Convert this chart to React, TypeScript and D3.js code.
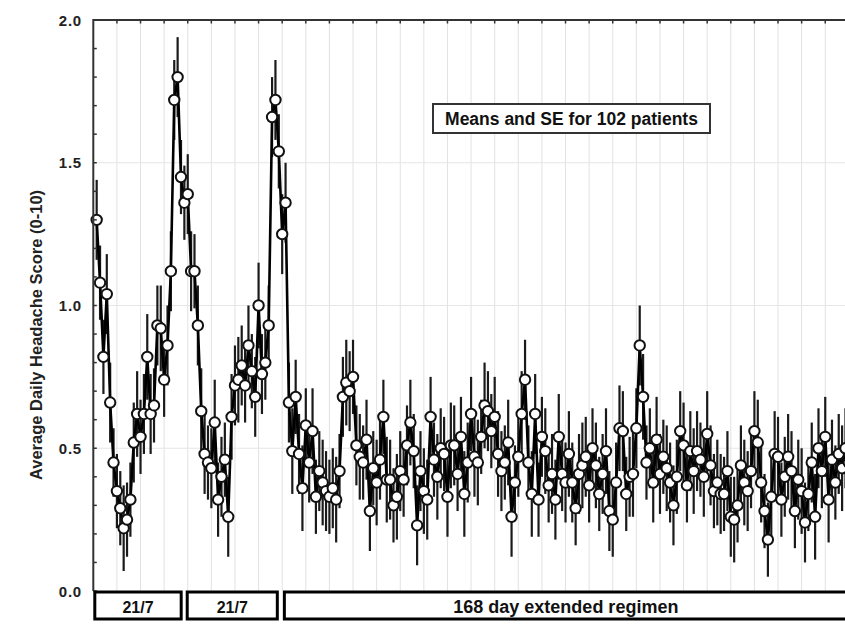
import React from "react";
import * as d3 from "d3";

// Mean daily headache score per day (days 1..224)
const means: number[] = [
  // cycle 1 (21/7)
  1.30, 1.08, 0.82, 1.04, 0.66, 0.45, 0.35, 0.29, 0.22, 0.25,
  0.32, 0.52, 0.62, 0.54, 0.62, 0.82, 0.62, 0.65, 0.93, 0.92,
  0.74, 0.86, 1.12, 1.72, 1.80, 1.45, 1.36, 1.39, 1.12, 1.12,
  0.93, 0.63,
  // cycle 2 (21/7)
  0.48, 0.45, 0.43, 0.59, 0.32, 0.40, 0.46, 0.26, 0.61, 0.72,
  0.74, 0.79, 0.72, 0.86, 0.77, 0.68, 1.00, 0.76, 0.80, 0.93,
  1.66, 1.72, 1.54, 1.25, 1.36,
  // extended regimen
  0.66, 0.49, 0.68, 0.48, 0.36, 0.58, 0.45, 0.56, 0.33, 0.42,
  0.38, 0.35, 0.33, 0.36, 0.32, 0.42, 0.68, 0.73, 0.70, 0.75,
  0.51, 0.47, 0.45, 0.53, 0.28, 0.43, 0.38, 0.46, 0.61, 0.39,
  0.39, 0.30, 0.33, 0.42, 0.39, 0.51, 0.59, 0.49, 0.23, 0.42,
  0.35, 0.32, 0.61, 0.46, 0.40, 0.50, 0.48, 0.33, 0.51, 0.51,
  0.41, 0.54, 0.34, 0.45, 0.62,
  0.47, 0.45, 0.54, 0.65, 0.63, 0.56, 0.61, 0.48, 0.42, 0.45,
  0.52, 0.26, 0.38, 0.47, 0.62, 0.74, 0.45, 0.34, 0.62, 0.32,
  0.54, 0.49, 0.37, 0.41, 0.32, 0.54, 0.41, 0.38, 0.48, 0.38,
  0.29, 0.41, 0.44, 0.47, 0.37, 0.50, 0.44, 0.34, 0.41, 0.49,
  0.28, 0.25, 0.38, 0.57, 0.56, 0.34, 0.40, 0.41, 0.57, 0.86,
  0.68, 0.45, 0.50, 0.38, 0.53,
  0.41, 0.47, 0.43, 0.38, 0.30, 0.40, 0.56, 0.51, 0.37, 0.49,
  0.42, 0.49, 0.46, 0.40, 0.55, 0.44, 0.35, 0.38, 0.34, 0.34,
  0.42, 0.26, 0.25, 0.30, 0.44, 0.38, 0.35, 0.42, 0.56, 0.52,
  0.38, 0.28, 0.18, 0.33, 0.48, 0.47, 0.32, 0.40, 0.47, 0.42,
  0.28, 0.39, 0.35, 0.24, 0.34, 0.45, 0.26, 0.50, 0.42, 0.54,
  0.32, 0.46, 0.38, 0.48, 0.43, 0.50, 0.45,
];

// Standard error per day
const se: number[] = [
  0.14, 0.13, 0.13, 0.14, 0.14, 0.12, 0.13, 0.13, 0.15, 0.13,
  0.13, 0.14, 0.15, 0.13, 0.14, 0.15, 0.14, 0.13, 0.14, 0.15,
  0.13, 0.14, 0.14, 0.14, 0.14, 0.13, 0.13, 0.14, 0.14, 0.13,
  0.14, 0.15,
  0.14, 0.13, 0.14, 0.15, 0.13, 0.14, 0.13, 0.14, 0.15, 0.14,
  0.15, 0.14, 0.13, 0.14, 0.13, 0.14, 0.15, 0.14, 0.13, 0.14,
  0.14, 0.14, 0.13, 0.14, 0.14,
  0.14, 0.15, 0.13, 0.14, 0.15, 0.13, 0.14, 0.15, 0.13, 0.14,
  0.15, 0.14, 0.13, 0.14, 0.15, 0.13, 0.14, 0.15, 0.14, 0.13,
  0.14, 0.15, 0.13, 0.14, 0.14, 0.13, 0.15, 0.14, 0.13, 0.15,
  0.14, 0.13, 0.15, 0.14, 0.13, 0.14, 0.15, 0.13, 0.14, 0.14,
  0.15, 0.14, 0.14, 0.13, 0.15, 0.14, 0.13, 0.14, 0.15, 0.14,
  0.13, 0.14, 0.15, 0.14, 0.13,
  0.14, 0.15, 0.13, 0.15, 0.14, 0.13, 0.14, 0.15, 0.14, 0.13,
  0.15, 0.14, 0.13, 0.14, 0.15, 0.14, 0.13, 0.15, 0.14, 0.13,
  0.14, 0.15, 0.13, 0.14, 0.14, 0.15, 0.13, 0.14, 0.15, 0.14,
  0.13, 0.14, 0.15, 0.14, 0.13, 0.14, 0.15, 0.13, 0.14, 0.15,
  0.14, 0.13, 0.14, 0.15, 0.14, 0.13, 0.14, 0.15, 0.14, 0.14,
  0.15, 0.13, 0.14, 0.14, 0.15,
  0.14, 0.13, 0.15, 0.14, 0.14, 0.13, 0.14, 0.15, 0.13, 0.14,
  0.15, 0.14, 0.13, 0.14, 0.15, 0.14, 0.13, 0.15, 0.14, 0.13,
  0.14, 0.14, 0.15, 0.13, 0.14, 0.15, 0.14, 0.13, 0.14, 0.15,
  0.14, 0.13, 0.13, 0.14, 0.15, 0.14, 0.13, 0.14, 0.15, 0.14,
  0.13, 0.14, 0.15, 0.14, 0.13, 0.14, 0.15, 0.14, 0.13, 0.14,
  0.15, 0.14, 0.13, 0.14, 0.15, 0.14, 0.13,
];

const days: number[] = means.map((_, i) => i + 1);

const yTicks: number[] = [0, 0.5, 1.0, 1.5, 2.0];
const yMinorTicks: number[] = d3.range(0, 2.0001, 0.1);
const weekTicks: number[] = d3.range(7, 232, 7);

const regimenLabels: string[] = ["21/7", "21/7", "168 day extended regimen"];
const regimenStart: number[] = [0, 27.4, 56.2];
const regimenEnd: number[] = [26.5, 55.0, 232];

const noteText = "Means and SE for 102 patients";
const yTitle = "Average Daily Headache Score (0-10)";

const W = 845;
const H = 637;

export default function App() {
  const x = d3.scaleLinear().domain([0, 224]).range([93.3, 93.3 + 224 * 3.373]);
  const y = d3.scaleLinear().domain([0, 2]).range([591, 20]);
  const left = x(0);
  const right = W + 20;
  const top = y(2);
  const bottom = y(0);

  const line = d3
    .line<number>()
    .x((_, i) => x(days[i]))
    .y((d) => y(d));

  const font = "'Liberation Sans', Arial, sans-serif";

  return (
    <svg
      width={W}
      height={H}
      style={{ position: "absolute", left: 0, top: 0, background: "#fff" }}
      fontFamily={font}
    >
      <rect x={0} y={0} width={W} height={H} fill="#fff" />
      {/* grid */}
      {weekTicks.map((t) => (
        <line key={"gv" + t} x1={x(t)} x2={x(t)} y1={top} y2={bottom} stroke="#e2e2e2" strokeWidth={1} />
      ))}
      {yTicks.slice(1, 4).map((t) => (
        <line key={"gh" + t} x1={left} x2={right} y1={y(t)} y2={y(t)} stroke="#e6e6e6" strokeWidth={1} />
      ))}

      {/* error bars */}
      {means.map((m, i) => (
        <line
          key={"e" + i}
          x1={x(days[i])}
          x2={x(days[i])}
          y1={y(m - se[i])}
          y2={y(m + se[i])}
          stroke="#1a1a1a"
          strokeWidth={2.2}
        />
      ))}
      {/* mean line */}
      <path d={line(means) || ""} fill="none" stroke="#000" strokeWidth={2.6} />
      {/* markers */}
      {means.map((m, i) => (
        <circle key={"c" + i} cx={x(days[i])} cy={y(m)} r={5.2} fill="#fff" stroke="#111" strokeWidth={2} />
      ))}

      {/* axes */}
      <line x1={left} x2={right} y1={top} y2={top} stroke="#333" strokeWidth={2.2} />
      {weekTicks.map((t) => (
        <line key={"tt" + t} x1={x(t)} x2={x(t)} y1={top} y2={top + 3.5} stroke="#333" strokeWidth={1.5} />
      ))}
      <line x1={left} x2={left} y1={top - 1} y2={bottom} stroke="#333" strokeWidth={2} />
      {yMinorTicks.map((t) => (
        <line key={"ty" + t} x1={left} x2={left + 3.5} y1={y(t)} y2={y(t)} stroke="#333" strokeWidth={1.5} />
      ))}
      {yTicks.map((t) => (
        <text
          key={"yl" + t}
          x={82}
          y={y(t) + 5.5}
          textAnchor="end"
          fontSize={15}
          fontWeight="bold"
          fill="#222"
          letterSpacing={0.8}
        >
          {t.toFixed(1)}
        </text>
      ))}
      <text
        transform={`translate(42, ${335}) rotate(-90)`}
        textAnchor="middle"
        fontSize={16.5}
        fontWeight="bold"
        fill="#222"
      >
        {yTitle}
      </text>

      {/* note box */}
      <rect x={433} y={104} width={277} height={29} fill="#fff" stroke="#333" strokeWidth={2} />
      <text x={571.5} y={124.5} textAnchor="middle" fontSize={17.5} fontWeight="bold" fill="#111">
        {noteText}
      </text>

      {/* regimen band */}
      {regimenLabels.map((lab, i) => {
        const x0 = x(regimenStart[i]);
        const x1 = x(regimenEnd[i]);
        return (
          <g key={"r" + i}>
            <rect x={x0 + 1.5} y={592} width={x1 - x0 - 3} height={27} fill="#fff" stroke="#000" strokeWidth={3} />
            <text
              x={(x0 + Math.min(x1, x(224))) / 2}
              y={613}
              textAnchor="middle"
              fontSize={i < 2 ? 16 : 18}
              fontWeight="bold"
              fill="#111"
            >
              {lab}
            </text>
          </g>
        );
      })}
    </svg>
  );
}
